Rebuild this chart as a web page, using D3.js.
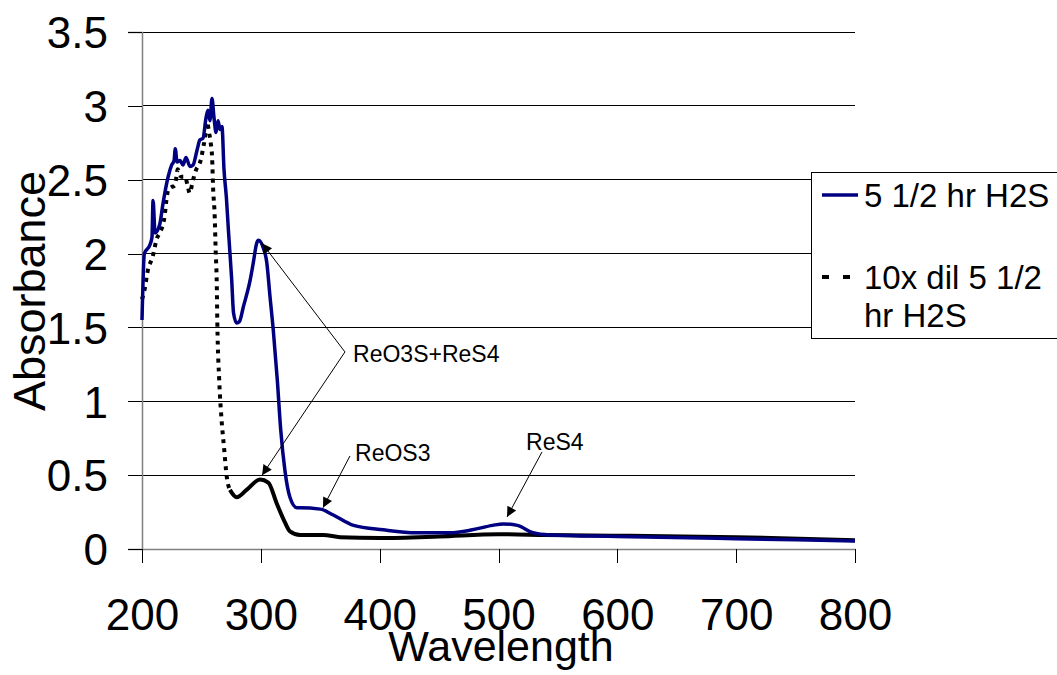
<!DOCTYPE html>
<html>
<head>
<meta charset="utf-8">
<script src="https://cdn.jsdelivr.net/npm/d3@7"></script>
<style>
  body { margin: 0; background: #fff; }
  text { font-family: "Liberation Sans", Arial, sans-serif; }
</style>
</head>
<body>
<script>
// data
const blueWavelength = [200,202,206.7,208.4,209.3,211,215,217.7,222,225,227,228,229.5,232,234.5,237,240.4,243,246.3,248.8,251.3,253.9,255.5,257.2,258.9,260.6,262.3,264,265.6,267.3,269,271,272.7,275.5,277,279.7,282,285.3,291,293.7,296.5,298,302,305,307.7,310.5,313.9,316.7,320.3,324.5,330.2,333,350,361,378,403,431,459,478,495,504,516,529,543,600,700,800];
const blueAbsorbance = [1.55,2.0,2.06,2.11,2.36,2.14,2.2,2.34,2.52,2.6,2.63,2.71,2.62,2.63,2.6,2.65,2.59,2.6,2.7,2.77,2.78,2.92,2.97,2.9,3.05,2.92,2.82,2.9,2.84,2.86,2.57,2.38,2.16,1.82,1.6,1.53,1.54,1.64,1.82,1.94,2.07,2.09,2.04,1.94,1.71,1.48,1.14,0.81,0.53,0.35,0.28,0.28,0.27,0.23,0.16,0.13,0.11,0.11,0.13,0.16,0.17,0.16,0.11,0.095,0.085,0.07,0.055];

const diluteWavelength = [200,202,205,209,210.7,212,215,217.7,219,220.5,222,224.7,227.5,229,230,233,236,238.7,240,243,245.7,248.5,250,251.3,252.7,254,255,256,257.8,259,259.8,261.2,262,262.9,263.4,265,267,269,271.3,274,279.7,288,299.3,306.3,313.3,320.3,324.5,333,352.6,366.6,400,450,500,540,600,700,800];
const diluteAbsorbance = [1.69,1.75,1.89,1.98,2.04,2.09,2.14,2.2,2.25,2.36,2.43,2.45,2.46,2.52,2.57,2.52,2.52,2.45,2.41,2.5,2.57,2.61,2.65,2.71,2.77,2.86,2.89,2.84,2.75,2.65,2.45,2.25,2.02,1.8,1.53,1.14,0.87,0.69,0.49,0.4,0.35,0.4,0.47,0.45,0.31,0.18,0.12,0.095,0.095,0.08,0.075,0.085,0.1,0.095,0.09,0.08,0.06];
// the dilute trace shows as dashes up to here, then solid
const dashedUntil = 274;

const xTicks = [200,300,400,500,600,700,800];
const yTicks = [0,0.5,1,1.5,2,2.5,3,3.5];
const seriesNames = ["5 1/2 hr H2S", "10x dil 5 1/2 hr H2S"];

// annotations: label, label anchor, arrow start, arrow tips (data units)
const annoLabels = ["ReO3S+ReS4", "ReOS3", "ReS4"];
const annoText = [[377.6,1.266],[379.3,0.596],[523.2,0.67]];
const annoFrom = [[370.8,1.334],[375,0.63],[536.6,0.657]];
const annoTips = [[[301,2.07],[301,0.5]], [[352.3,0.28]], [[507.2,0.217]]];

const width = 1057, height = 675;
const svg = d3.select("body").append("svg")
  .attr("width", width).attr("height", height);

const x = d3.scaleLinear().domain([200,800]).range([142,855]);
const y = d3.scaleLinear().domain([0,3.5]).range([549,32]);

//gridlines
svg.selectAll(".grid").data(yTicks.filter(d => d > 0)).enter()
  .append("line")
  .attr("x1", 142).attr("x2", 855)
  .attr("y1", d => y(d)).attr("y2", d => y(d))
  .attr("stroke", "#000").attr("stroke-width", 1)
  .attr("shape-rendering", "crispEdges");

//y axis
const yAxis = svg.append("g").attr("transform", "translate(142,0)")
  .call(d3.axisLeft(y).tickValues(yTicks).tickSize(14).tickPadding(20).tickFormat(d => d));
yAxis.select(".domain").attr("stroke", "#808080").attr("stroke-width", 1.5);
yAxis.selectAll(".tick line").attr("stroke", "#000").attr("shape-rendering", "crispEdges");
yAxis.selectAll(".tick text").attr("font-size", 44).attr("fill", "#000")
  .attr("font-family", "Liberation Sans, Arial, sans-serif").attr("dy", "0.36em");

//x axis
const xAxis = svg.append("g").attr("transform", "translate(0,549)")
  .call(d3.axisBottom(x).tickValues(xTicks).tickSize(14).tickPadding(36).tickSizeOuter(0));
xAxis.select(".domain").attr("stroke", "#808080").attr("stroke-width", 1.5);
xAxis.selectAll(".tick line").attr("stroke", "#000").attr("shape-rendering", "crispEdges");
xAxis.selectAll(".tick text").attr("font-size", 44).attr("fill", "#000")
  .attr("font-family", "Liberation Sans, Arial, sans-serif");

//axis titles
svg.append("text")
  .attr("transform", "translate(45,291) rotate(-90)")
  .attr("text-anchor", "middle")
  .attr("font-size", 45)
  .text("Absorbance");
svg.append("text")
  .attr("x", 501).attr("y", 661)
  .attr("text-anchor", "middle")
  .attr("font-size", 43)
  .text("Wavelength");

//series
const line = d3.line().x(d => x(d[0])).y(d => y(d[1])).curve(d3.curveMonotoneX);
const diluteDashed = diluteWavelength.map((w, i) => [w, diluteAbsorbance[i]]).filter(d => d[0] <= dashedUntil);
const diluteSolid = diluteWavelength.map((w, i) => [w, diluteAbsorbance[i]]).filter(d => d[0] >= dashedUntil);

svg.append("path")
  .attr("d", line(diluteDashed))
  .attr("fill", "none").attr("stroke", "#000").attr("stroke-width", 4)
  .attr("stroke-dasharray", "4,5");
svg.append("path")
  .attr("d", line(diluteSolid))
  .attr("fill", "none").attr("stroke", "#000").attr("stroke-width", 4)
  .attr("stroke-linejoin", "round");

svg.append("path")
  .attr("d", line(blueWavelength.map((w, i) => [w, blueAbsorbance[i]])))
  .attr("fill", "none").attr("stroke", "#000080").attr("stroke-width", 3.5)
  .attr("stroke-linejoin", "round");

//annotations with arrows
svg.append("defs").append("marker")
  .attr("id", "arrow")
  .attr("viewBox", "0 0 10 10").attr("refX", 10).attr("refY", 5)
  .attr("markerWidth", 14).attr("markerHeight", 10)
  .attr("markerUnits", "userSpaceOnUse")
  .attr("orient", "auto")
  .append("path").attr("d", "M0,0L10,5L0,10Z").attr("fill", "#000");

annoLabels.forEach((label, i) => {
  annoTips[i].forEach(tip => {
    svg.append("line")
      .attr("x1", x(annoFrom[i][0])).attr("y1", y(annoFrom[i][1]))
      .attr("x2", x(tip[0])).attr("y2", y(tip[1]))
      .attr("stroke", "#000").attr("stroke-width", 1)
      .attr("marker-end", "url(#arrow)");
  });
  svg.append("text")
    .attr("x", x(annoText[i][0])).attr("y", y(annoText[i][1]))
    .attr("font-size", 23)
    .text(label);
});

//legend
const legend = svg.append("g");
legend.append("rect")
  .attr("x", 811.5).attr("y", 172.5).attr("width", 270).attr("height", 166)
  .attr("fill", "#fff").attr("stroke", "#000").attr("stroke-width", 1);
legend.append("line")
  .attr("x1", 822).attr("x2", 858).attr("y1", 195).attr("y2", 195)
  .attr("stroke", "#000080").attr("stroke-width", 3.5);
legend.append("text").attr("x", 864).attr("y", 207).attr("font-size", 33).text(seriesNames[0]);
legend.append("line")
  .attr("x1", 822).attr("x2", 850).attr("y1", 277).attr("y2", 277)
  .attr("stroke", "#000").attr("stroke-width", 4).attr("stroke-dasharray", "7,14");
const words = seriesNames[1].split(" ");
legend.append("text").attr("x", 864).attr("y", 289).attr("font-size", 33).text(words.slice(0, 4).join(" "));
legend.append("text").attr("x", 864).attr("y", 327).attr("font-size", 33).text(words.slice(4).join(" "));
</script>
</body>
</html>
